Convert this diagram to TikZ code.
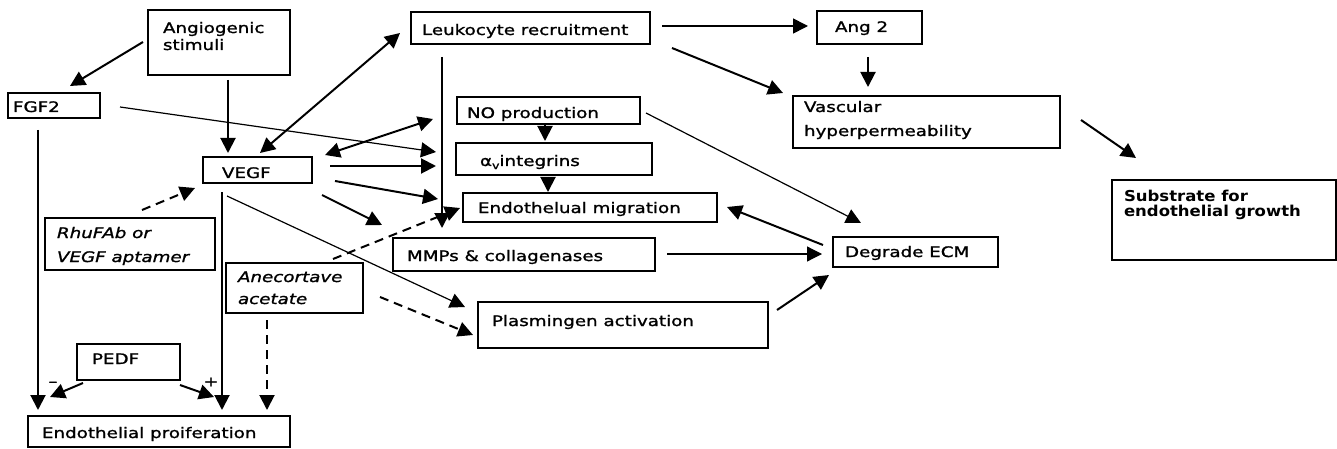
\documentclass[tikz,border=0pt]{standalone}
\usepackage{fontspec}
\setmainfont{DejaVu Sans}[FakeStretch=1.26, FakeBold=1.3]
\newfontfamily\subfont{DejaVu Sans}[FakeStretch=1.1]
\usetikzlibrary{arrows.meta}
\begin{document}
\begin{tikzpicture}[x=1pt,y=-1pt,
  box/.style={draw, rectangle, line width=1.6pt, inner sep=0pt, outer sep=0pt, anchor=north west},
  lbl/.style={inner sep=0pt, outer sep=0pt, anchor=base west, font=\fontsize{14.5}{17}\selectfont},
  ilbl/.style={lbl, font=\fontsize{14.5}{17}\selectfont\itshape},
  sublbl/.style={lbl, font=\subfont\bfseries\fontsize{15}{17}\selectfont},
  sign/.style={inner sep=0pt, outer sep=0pt, font=\fontsize{14}{14}\selectfont},
  arr/.style={line width=2pt, -{Triangle[length=15pt,width=15pt]}},
  medarr/.style={arr, line width=1.6pt},
  thinarr/.style={arr, line width=1.2pt},
  darr/.style={line width=2pt, {Triangle[length=15pt,width=15pt]}-{Triangle[length=15pt,width=15pt]}},
  dsh/.style={arr, dash pattern=on 9pt off 6pt}]
\useasboundingbox (0,0) rectangle (1337,449);

% boxes
\node[box, minimum width=142, minimum height=65] (ang) at (148,10) {};
\node[box, minimum width=92, minimum height=25] (fgf) at (8,93) {};
\node[box, minimum width=109, minimum height=26] (vegf) at (203,157) {};
\node[box, minimum width=170, minimum height=52] (rhu) at (45,218) {};
\node[box, minimum width=137, minimum height=50] (ane) at (226,263) {};
\node[box, minimum width=103, minimum height=36] (pedf) at (77,344) {};
\node[box, minimum width=262, minimum height=31] (prol) at (28,416) {};
\node[box, minimum width=239, minimum height=32] (leuk) at (411,12) {};
\node[box, minimum width=183, minimum height=27] (no) at (457,97) {};
\node[box, minimum width=196, minimum height=32] (integ) at (456,143) {};
\node[box, minimum width=254, minimum height=29] (migr) at (463,193) {};
\node[box, minimum width=262, minimum height=33] (mmp) at (393,238) {};
\node[box, minimum width=290, minimum height=46] (plas) at (478,302) {};
\node[box, minimum width=105, minimum height=33] (ang2) at (817,11) {};
\node[box, minimum width=267, minimum height=52] (vasc) at (793,96) {};
\node[box, minimum width=165, minimum height=30] (ecm) at (833,237) {};
\node[box, minimum width=224, minimum height=80] (sub) at (1112,180) {};

% texts
\node[lbl] (angT1) at (163,33) {Angiogenic};
\node[lbl] (angT2) at (163,50) {stimuli};
\node[lbl] (fgfT) at (13,112) {FGF2};
\node[lbl] (vegfT) at (222,178) {VEGF};
\node[ilbl] (rhuT1) at (57,238) {RhuFAb or};
\node[ilbl] (rhuT2) at (57,262) {VEGF aptamer};
\node[ilbl] (aneT1) at (238,282) {Anecortave};
\node[ilbl] (aneT2) at (238,304) {acetate};
\node[lbl] (pedfT) at (92,364) {PEDF};
\node[lbl] (prolT) at (42,438) {Endothelial proiferation};
\node[lbl] (leukT) at (422,35) {Leukocyte recruitment};
\node[lbl] (noT) at (467,118) {NO production};
\node[lbl] (integT) at (480,166) {α\raisebox{-3pt}{\fontsize{10}{10}\selectfont v}integrins};
\node[lbl] (migrT) at (478,213) {Endothelual migration};
\node[lbl] (mmpT) at (407,261) {MMPs \& collagenases};
\node[lbl] (plasT) at (492,326) {Plasmingen activation};
\node[lbl] (ang2T) at (835,32) {Ang 2};
\node[lbl] (vascT1) at (804,112) {Vascular};
\node[lbl] (vascT2) at (804,136) {hyperpermeability};
\node[lbl] (ecmT) at (845,257) {Degrade ECM};
\node[sublbl] (subT1) at (1124,201) {Substrate for};
\node[sublbl] (subT2) at (1124,216) {endothelial growth};

% connectors
\draw[arr] ([shift={(-5,32)}]ang.north west) -- ([shift={(62,-7)}]fgf.north west);
\draw[arr] ([shift={(80,70)}]ang.north west) -- ([shift={(25,-4)}]vegf.north west);
\draw[thinarr] ([shift={(112,14)}]fgf.north west) -- ([shift={(-20,9)}]integ.north west);
\draw[darr] ([shift={(122,-2)}]vegf.north west) -- ([shift={(-24,22)}]no.north west);
\draw[darr] ([shift={(57,-4)}]vegf.north west) -- ([shift={(-11,21)}]leuk.north west);
\draw[arr] ([shift={(127,9)}]vegf.north west) -- ([shift={(-20,23)}]integ.north west);
\draw[arr] ([shift={(132,24)}]vegf.north west) -- ([shift={(-25,6)}]migr.north west);
\draw[arr] ([shift={(119,38)}]vegf.north west) -- ([shift={(-11,-13)}]mmp.north west);
\draw[thinarr] ([shift={(24,39)}]vegf.north west) -- ([shift={(-13,5)}]plas.north west);
\draw[arr] ([shift={(19,35)}]vegf.north west) -- ([shift={(194,-6)}]prol.north west);
\draw[arr] ([shift={(30,37)}]fgf.north west) -- ([shift={(10,-6)}]prol.north west);
\draw[dsh] ([shift={(97,-8)}]rhu.north west) -- ([shift={(-8,31)}]vegf.north west);
\draw[arr] ([shift={(6,39)}]pedf.north west) -- ([shift={(22,-19)}]prol.north west)
   node[sign, at end, anchor=center, xshift=3pt, yshift=13pt] {–};
\draw[arr] ([shift={(103,41)}]pedf.north west) -- ([shift={(186,-19)}]prol.north west)
   node[sign, at end, anchor=center, xshift=-3pt, yshift=15pt] {+};
\draw[dsh] ([shift={(41,57)}]ane.north west) -- ([shift={(239,-6)}]prol.north west);
\draw[dsh] ([shift={(107,-4)}]ane.north west) -- ([shift={(-3,15)}]migr.north west);
\draw[dsh] ([shift={(154,34)}]ane.north west) -- ([shift={(-5,33)}]plas.north west);
\draw[arr] ([shift={(31,45)}]leuk.north west) -- ([shift={(-21,35)}]migr.north west);
\draw[arr] ([shift={(88,28)}]no.north west) -- ([shift={(89,-2)}]integ.north west);
\draw[arr] ([shift={(92,34)}]integ.north west) -- ([shift={(85,-1)}]migr.north west);
\draw[medarr] ([shift={(251,14)}]leuk.north west) -- ([shift={(-9,15)}]ang2.north west);
\draw[arr] ([shift={(261,36)}]leuk.north west) -- ([shift={(-10,-3)}]vasc.north west);
\draw[arr] ([shift={(51,46)}]ang2.north west) -- ([shift={(75,-9)}]vasc.north west);
\draw[arr] ([shift={(288,24)}]vasc.north west) -- ([shift={(24,-22)}]sub.north west);
\draw[thinarr] ([shift={(189,16)}]no.north west) -- ([shift={(28,-14)}]ecm.north west);
\draw[arr] ([shift={(-10,8)}]ecm.north west) -- ([shift={(264,14)}]migr.north west);
\draw[thinarr] ([shift={(274,16)}]mmp.north west) -- ([shift={(-11,17)}]ecm.north west);
\draw[arr] ([shift={(299,8)}]plas.north west) -- ([shift={(-4,38)}]ecm.north west);
\end{tikzpicture}
\end{document}
